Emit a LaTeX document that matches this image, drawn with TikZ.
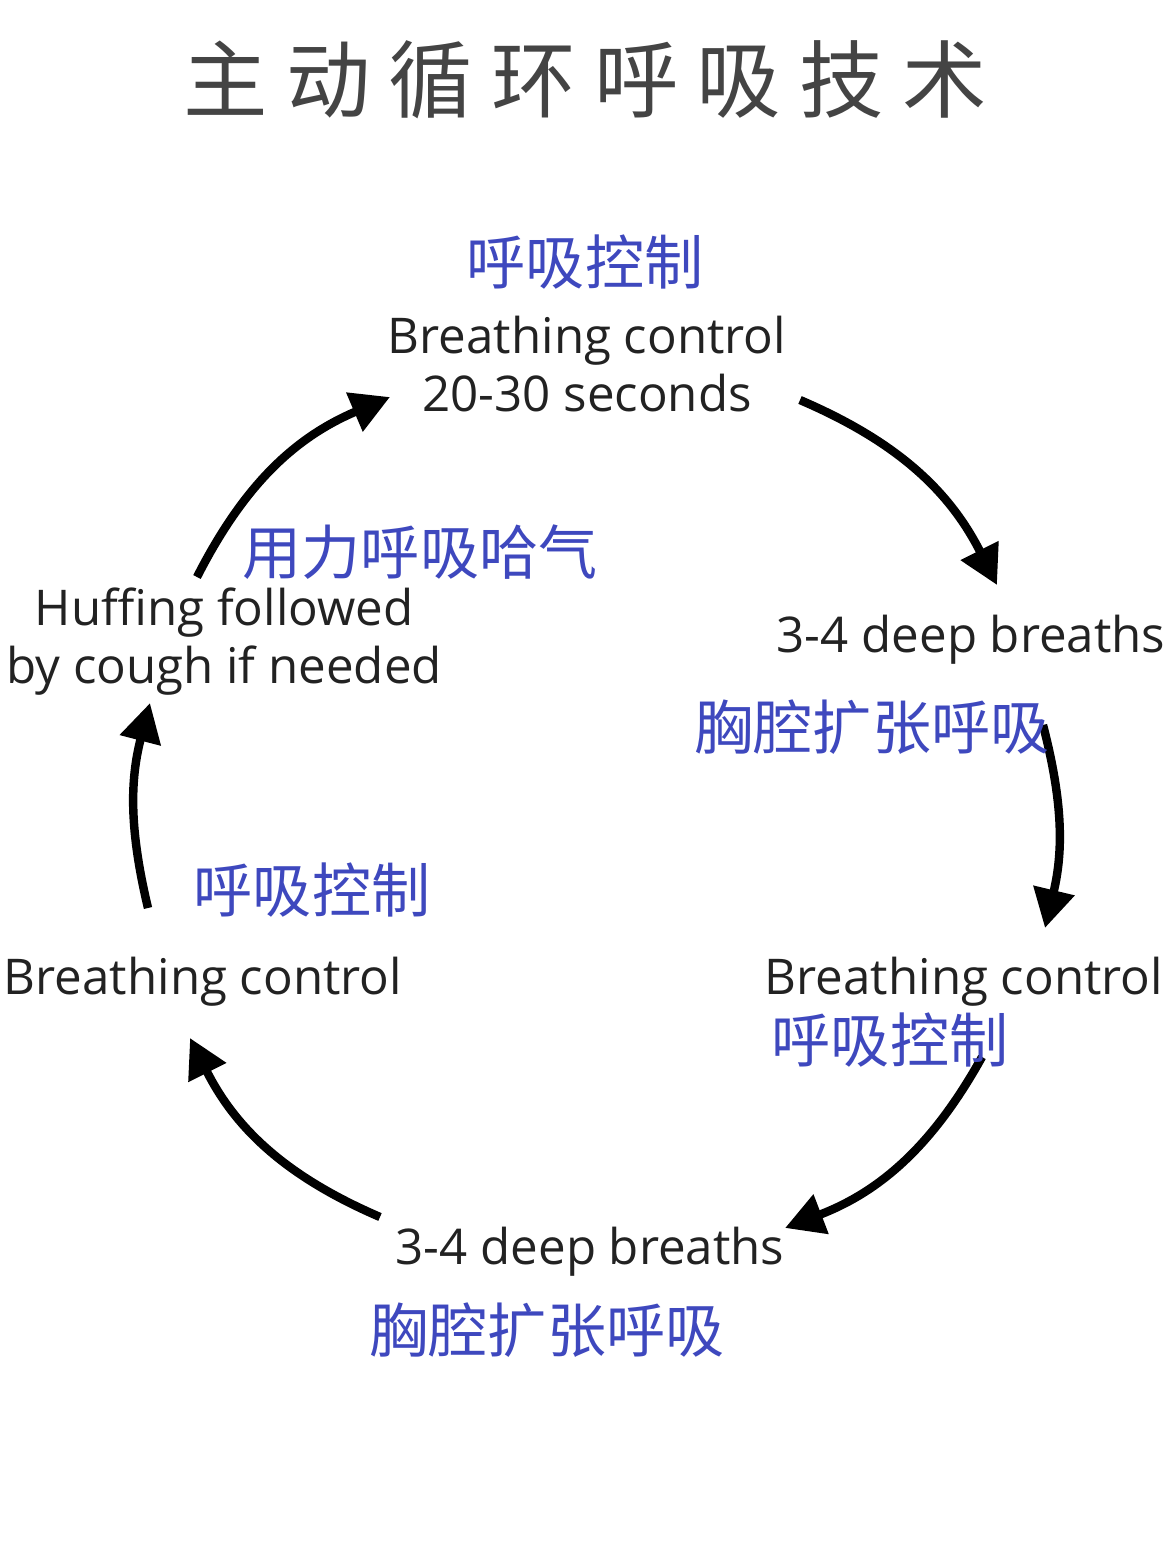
\documentclass[tikz,border=0pt]{standalone}
\usepackage{fontspec}
\setmainfont{Open Sans}
\newfontfamily\cjk{Noto Sans CJK SC}
\usetikzlibrary{positioning,arrows.meta}

\definecolor{labelBlue}{RGB}{62,72,190}
\definecolor{titleGrey}{RGB}{68,68,68}
\definecolor{stageText}{RGB}{34,34,34}

\begin{document}
\begin{tikzpicture}[x=0.01cm,y=-0.01cm,>={Triangle[length=11pt,width=11.5pt]}]

    %
    % Styles for stages, labels and flow arrows
    %
    \tikzstyle{stage} = [inner sep=0pt, align=center, text=stageText,
                         font={\fontsize{14}{16.5}\selectfont}]
    \tikzstyle{cnLabel} = [inner sep=0pt, text=labelBlue,
                           font={\cjk\fontsize{16.8}{20}\selectfont}]
    \tikzstyle{flow} = [black, line width=2.4pt, ->];

    \useasboundingbox (0,0) rectangle (1170,1560);

    %
    % Title
    %
    \node[inner sep=0pt, text=titleGrey, font={\cjk\fontsize{24}{24}\selectfont}] (title) at (585,80)
      {主\hspace{5.2pt}动\hspace{5.2pt}循\hspace{5.2pt}环\hspace{5.2pt}呼\hspace{5.2pt}吸\hspace{5.2pt}技\hspace{5.2pt}术};

    %
    % Position stages
    %
    \node[stage] (bcTop) at (587,364) {Breathing control\\20-30 seconds};
    \node[stage] (deepRight) at (971,640) {3-4 deep breaths};
    \node[stage] (bcRight) at (964,982) {Breathing control};
    \node[stage] (deepBottom) at (590,1252) {3-4 deep breaths};
    \node[stage] (bcLeft) at (203,982) {Breathing control};
    \node[stage] (huff) at (224,642) {Huffing followed\\by cough if needed};

    %
    % Connect stages round the cycle
    %
    \draw[flow, bend left=20] ([shift={(-27,-65)}]huff.center) to ([shift={(-197,33)}]bcTop.center);
    \draw[flow, bend left=20] ([shift={(213,36)}]bcTop.center) to ([shift={(26,-55)}]deepRight.center);
    \draw[flow, bend left=14] ([shift={(72,85)}]deepRight.center) to ([shift={(81,-54)}]bcRight.center);
    \draw[flow, bend left=20] ([shift={(18,75)}]bcRight.center) to ([shift={(195,-24)}]deepBottom.center);
    \draw[flow, bend left=20] ([shift={(-210,-35)}]deepBottom.center) to ([shift={(-13,56)}]bcLeft.center);
    \draw[flow, bend left=14] ([shift={(-55,-74)}]bcLeft.center) to ([shift={(-74,61)}]huff.center);

    %
    % Chinese labels
    %
    \node[cnLabel] (bcTopCn) at (585,262) {呼吸控制};
    \node[cnLabel] (huffCn) at (420,552) {用力呼吸哈气};
    \node[cnLabel] (deepRightCn) at (872,727) {胸腔扩张呼吸};
    \node[cnLabel] (bcRightCn) at (890,1040) {呼吸控制};
    \node[cnLabel] (deepBottomCn) at (547,1330) {胸腔扩张呼吸};
    \node[cnLabel] (bcLeftCn) at (312,890) {呼吸控制};
\end{tikzpicture}
\end{document}
